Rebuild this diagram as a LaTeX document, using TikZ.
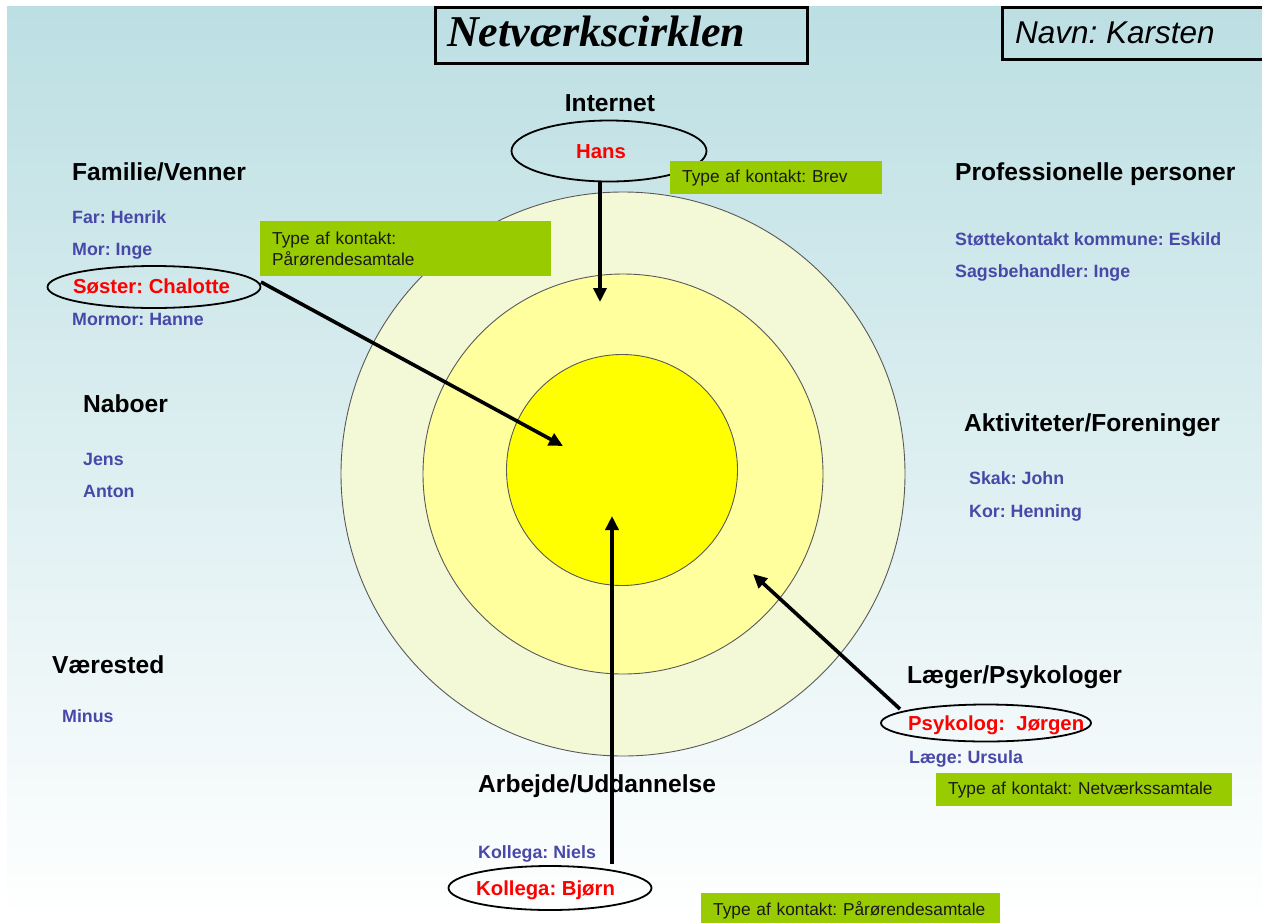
\documentclass[tikz,border=0pt]{standalone}
\usepackage{fontspec}
\setmainfont{Liberation Sans}
\newfontfamily\titlefont{Liberation Serif}
\usetikzlibrary{arrows.meta,shapes.geometric}
\definecolor{bgtop}{RGB}{188,223,227}
\definecolor{ringA}{RGB}{243,248,214}
\definecolor{ringB}{RGB}{255,255,158}
\definecolor{ringC}{RGB}{255,255,0}
\definecolor{nameblue}{RGB}{72,72,168}
\definecolor{boxgreen}{RGB}{153,204,0}
\frenchspacing
\begin{document}
\begin{tikzpicture}[x=1pt,y=-1pt,
  heading/.style={anchor=base west,inner sep=0pt,font=\fontsize{24.6}{27}\selectfont\bfseries},
  person/.style={anchor=base west,inner sep=0pt,text=nameblue,font=\fontsize{17.8}{20}\selectfont\bfseries},
  keyperson/.style={anchor=base west,inner sep=0pt,text=red,font=\fontsize{20.3}{22}\selectfont\bfseries},
  keyring/.style={ellipse,draw=black,line width=1.8pt,inner sep=0pt},
  ring/.style={circle,draw=black!65,line width=0.9pt,inner sep=0pt},
  greenbox/.style={anchor=north west,fill=boxgreen,inner xsep=12pt,inner ysep=0pt,align=left,
    font=\fontsize{17.3}{20.5}\selectfont,text=black!90},
  link/.style={line width=3.6pt,-{Triangle[length=14pt,width=13pt]}},
  framebox/.style={draw=black,line width=3pt,inner sep=0pt}
]
\useasboundingbox (0,0) rectangle (1262,922);
\fill[white] (0,0) rectangle (1262,922);
\shade[top color=bgtop,bottom color=white] (7,6) rectangle (1262,922);

% title boxes
\node[framebox,minimum width=372pt,minimum height=56pt] (titlebox) at (621,35) {};
\node[anchor=base west,inner sep=0pt,font=\titlefont\fontsize{44}{48}\selectfont\bfseries\itshape] (title) at (447,46) {Netværkscirklen};
\node[framebox,minimum width=280pt,minimum height=52pt] (namebox) at (1142,33) {};
\node[anchor=base west,inner sep=0pt,font=\fontsize{31.5}{34}\selectfont\itshape] (name) at (1015,43) {Navn: Karsten};

% circles
\node[ring,fill=ringA,minimum size=564pt] (outer) at (623,474) {};
\node[ring,fill=ringB,minimum size=400pt] (middle) at (623,474) {};
\node[ring,fill=ringC,minimum size=231pt] (inner) at (622,470) {};

% Internet
\node[anchor=base,inner sep=0pt,font=\fontsize{24.6}{27}\selectfont\bfseries] (internet) at (610,111) {Internet};
\node[keyring,minimum width=195pt,minimum height=61pt] (hansring) at (609,151) {};
\node[keyperson,anchor=base] (hans) at (601,158) {Hans};
\node[greenbox,minimum width=212pt,minimum height=33pt,text width=188pt] (boxbrev) at (670,161) {Type af kontakt: Brev};

% Familie/Venner
\node[heading] (familie) at (72,180) {Familie/Venner};
\node[person] (far) at (72,223) {Far: Henrik};
\node[person] (mor) at (72,255) {Mor: Inge};
\node[keyring,minimum width=213pt,minimum height=42pt] (soesterring) at (154,287) {};
\node[keyperson] (soester) at (73,293) {Søster: Chalotte};
\node[person] (mormor) at (72,325) {Mormor: Hanne};
\node[greenbox,minimum width=291pt,minimum height=55pt,text width=267pt] (boxpaa) at (260,221) {Type af kontakt:\\Pårørendesamtale};

% Naboer
\node[heading] (naboer) at (83,412) {Naboer};
\node[person] (jens) at (83,465) {Jens};
\node[person] (anton) at (83,497) {Anton};

% Vaerested
\node[heading] (vaerested) at (52,673) {Værested};
\node[person] (minus) at (62,722) {Minus};

% Professionelle
\node[heading] (prof) at (955,180) {Professionelle personer};
\node[person] (stoette) at (955,245) {Støttekontakt kommune: Eskild};
\node[person] (sags) at (955,277) {Sagsbehandler: Inge};

% Aktiviteter
\node[heading] (akt) at (964,431) {Aktiviteter/Foreninger};
\node[person] (skak) at (969,484) {Skak: John};
\node[person] (kor) at (969,517) {Kor: Henning};

% Laeger
\node[heading] (laeger) at (907,683) {Læger/Psykologer};
\node[keyring,minimum width=210pt,minimum height=37pt] (psykring) at (986,723) {};
\node[keyperson] (psyk) at (908,730) {Psykolog:\ \ Jørgen};
\node[person] (laege) at (909,763) {Læge: Ursula};
\node[greenbox,minimum width=296pt,minimum height=33pt,text width=272pt] (boxnet) at (936,773) {\mbox{Type af kontakt: Netværkssamtale}};

% Arbejde
\node[heading] (arbejde) at (478,792) {Arbejde/Uddannelse};
\node[person] (niels) at (478,858) {Kollega: Niels};
\node[keyring,minimum width=203pt,minimum height=44pt] (bjoernring) at (550,888) {};
\node[keyperson] (bjoern) at (476,895) {Kollega: Bjørn};
\node[greenbox,minimum width=299pt,minimum height=34pt,text width=275pt] (boxpaa2) at (701,893) {\mbox{Type af kontakt: Pårørendesamtale}};

% arrows
\coordinate (hansstart) at (600,181);
\coordinate (hansend) at (600,302);
\coordinate (soesterstart) at (261,282);
\coordinate (soesterend) at (563,446);
\coordinate (psykstart) at (900,709);
\coordinate (psykend) at (753,574);
\coordinate (bjoernstart) at (612,864);
\coordinate (bjoernend) at (612,516);
\draw[link] (hansstart) -- (hansend);
\draw[link] (soesterstart) -- (soesterend);
\draw[link] (psykstart) -- (psykend);
\draw[link] (bjoernstart) -- (bjoernend);
\end{tikzpicture}
\end{document}
